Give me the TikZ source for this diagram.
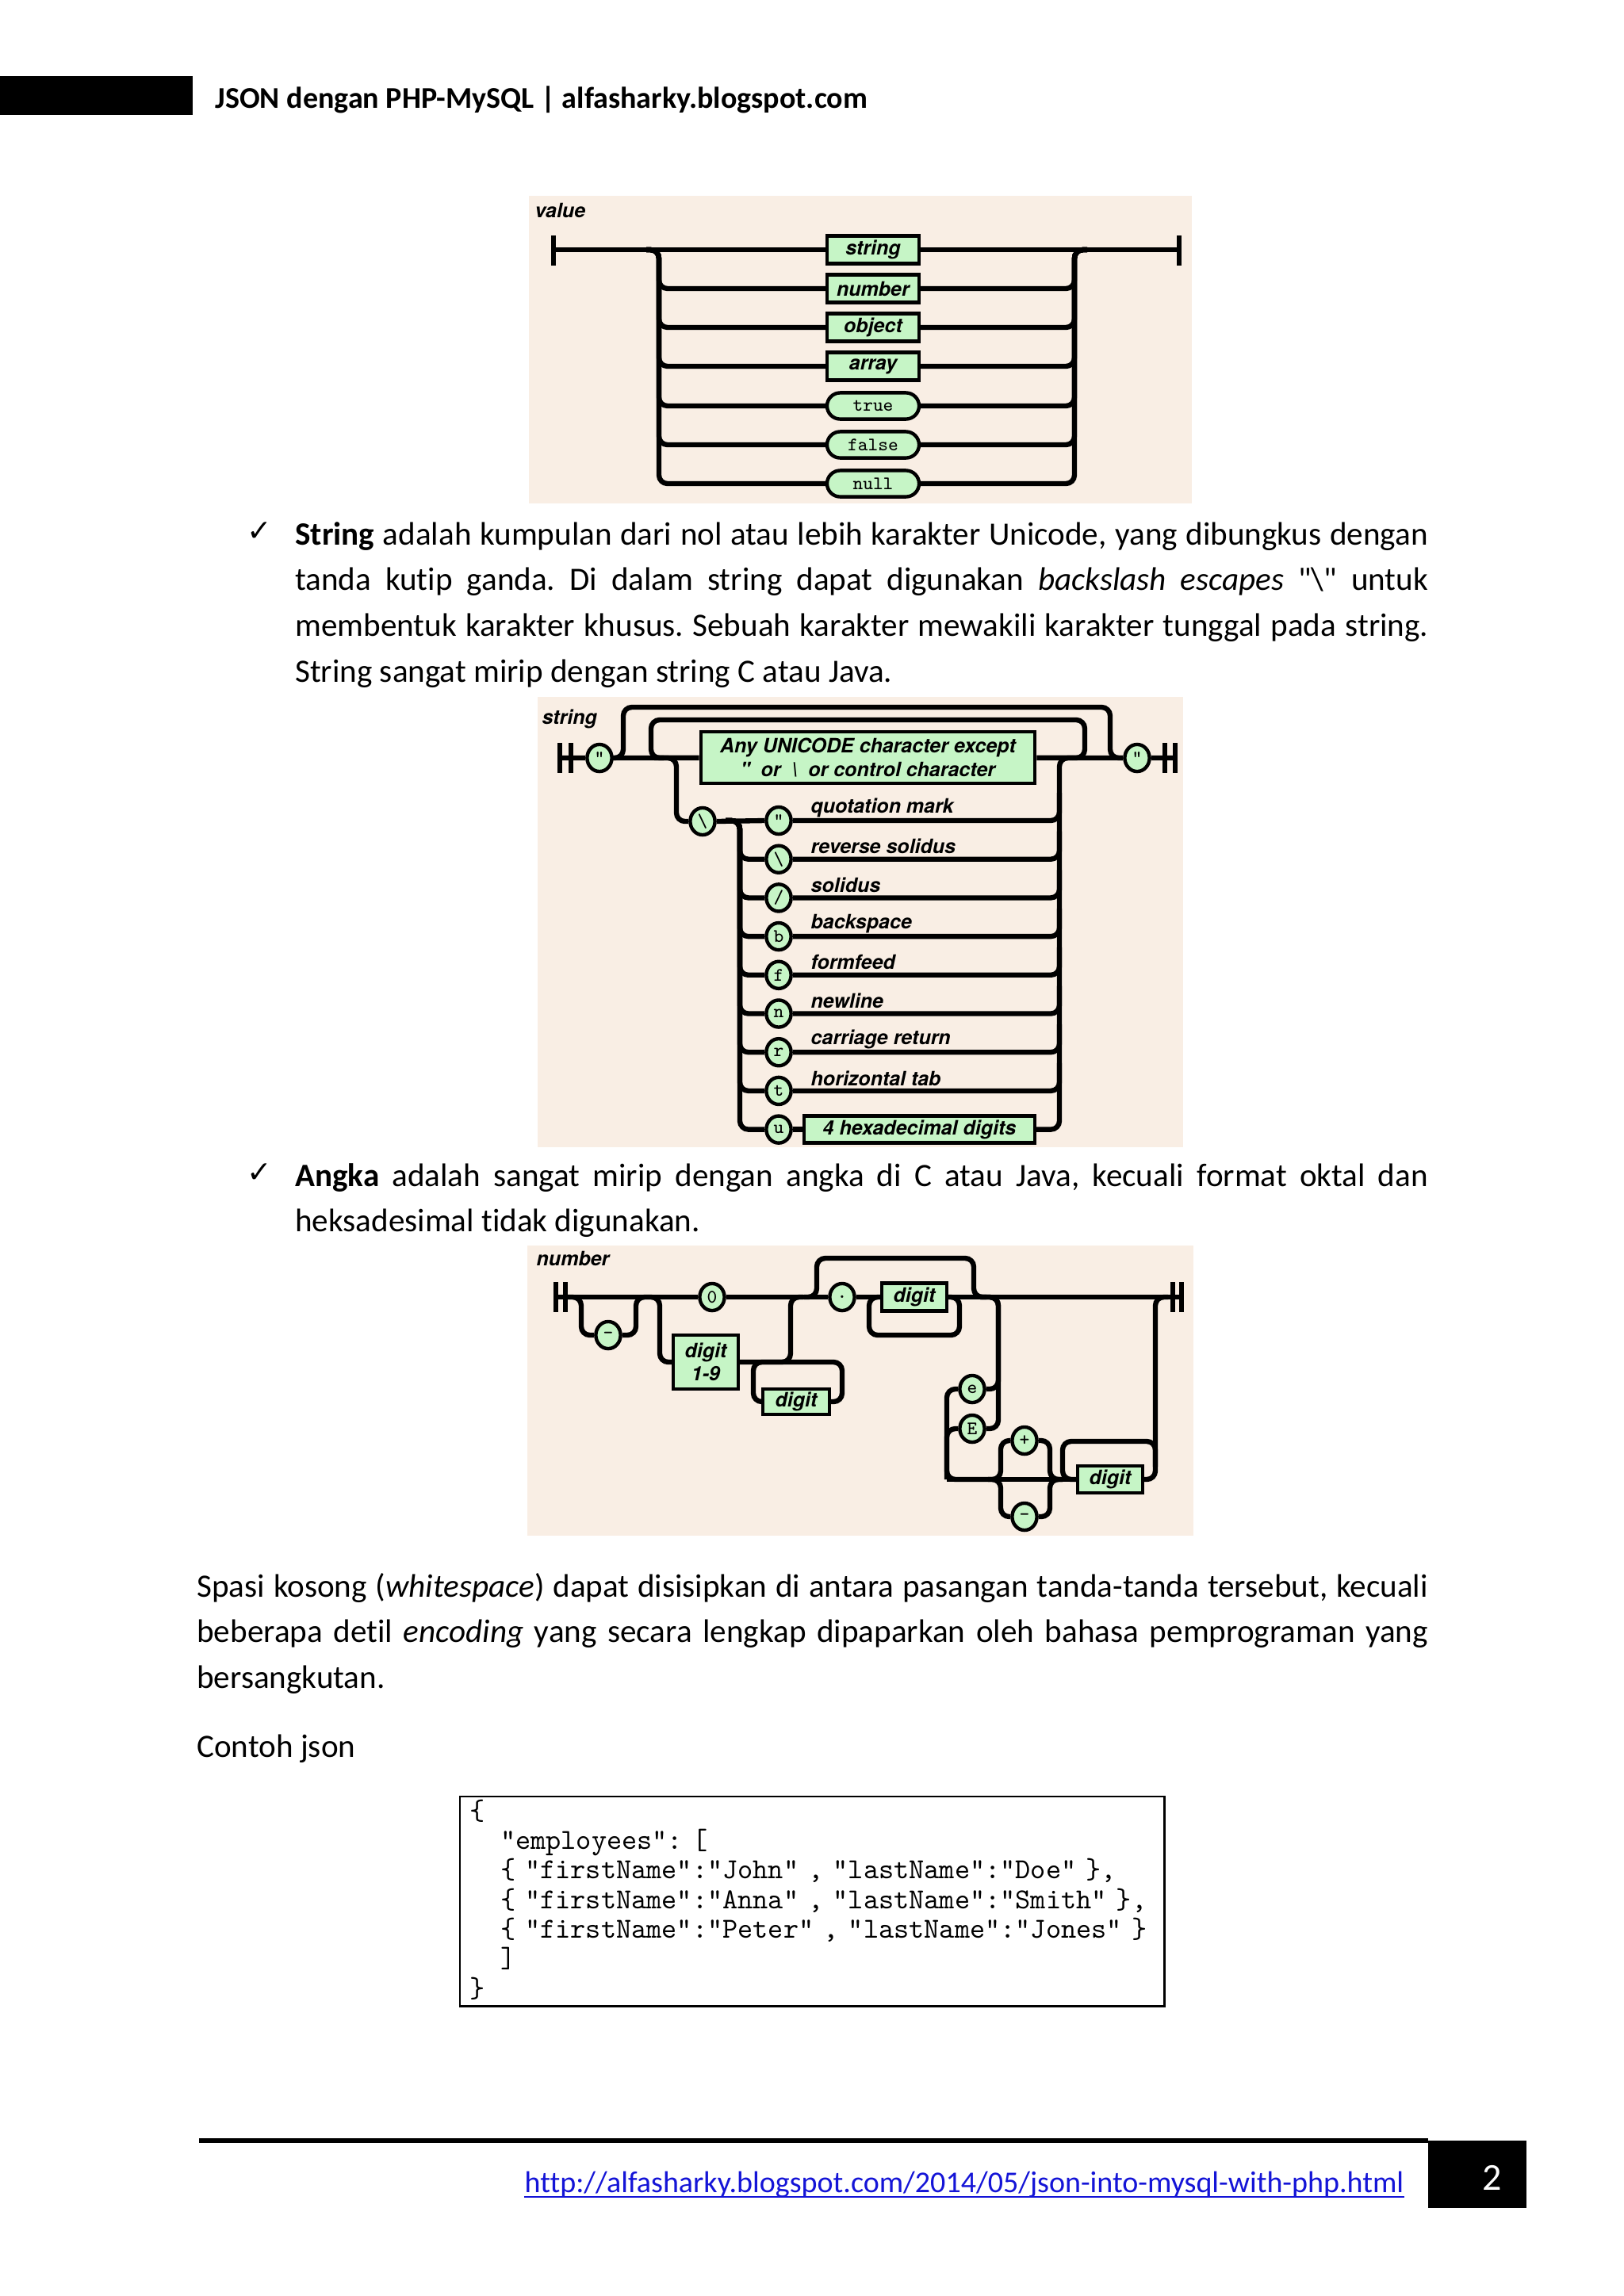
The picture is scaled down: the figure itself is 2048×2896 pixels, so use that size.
\documentclass[tikz,border=0pt]{standalone}
\usepackage{fontspec}
\setmainfont{Carlito}[Ligatures={TeXOff,CommonOff}]
\setmonofont{Latin Modern Mono}[Ligatures=TeXOff]
\newfontfamily\diafont{TeX Gyre Heros}[Ligatures=TeXOff]
\newfontfamily\symfont{DejaVu Sans}
\usetikzlibrary{shapes.geometric}
\definecolor{railbg}{RGB}{249,238,228}
\definecolor{railgreen}{RGB}{198,245,198}
\definecolor{linkblue}{RGB}{20,20,215}
\hyphenpenalty=10000
\exhyphenpenalty=10000
\tolerance=9999
\frenchspacing

\tikzset{
  rail/.style={line width=0.65mm, rounded corners=1.1mm},
  railbar/.style={line width=0.7mm},
  namelbl/.style={anchor=west, inner sep=0, font=\diafont\bfseries\itshape\fontsize{7.3}{8}\selectfont},
  ntbox/.style={draw, line width=0.45mm, fill=railgreen, inner sep=0, align=center,
    font=\diafont\bfseries\itshape\fontsize{7.3}{8.6}\selectfont},
  litpill/.style={draw, line width=0.45mm, fill=railgreen, inner sep=0, rounded corners=1.7mm,
    minimum width=11.9mm, minimum height=3.4mm, font=\ttfamily\fontsize{7}{7}\selectfont},
  litdot/.style={ellipse, draw, line width=0.45mm, fill=railgreen, inner sep=0,
    minimum width=3.2mm, minimum height=3.5mm, font=\ttfamily\fontsize{7}{7}\selectfont},
  bodytxt/.style={anchor=base west, inner sep=0, align=justify, font=\fontsize{12}{16.9}\selectfont},
  tick/.style={anchor=base west, inner sep=0, font=\symfont\fontsize{11}{12}\selectfont},
}

\begin{document}
\begin{tikzpicture}[x=0.1025390625mm, y=-0.1025390625mm]
  \fill[white] (0,0) rectangle (2048,2896);
  \useasboundingbox (0,0) rectangle (2048,2896);

  % header
  \fill[black] (0,96) rectangle (243,145);
  \node[anchor=base west, inner sep=0, font=\bfseries\fontsize{11.1}{13}\selectfont] (hdr) at (271,136)
    {JSON dengan PHP-MySQL | alfasharky.blogspot.com};

  % value
  \fill[railbg] (667,247) rectangle (1503,635);
  \node[namelbl] (vlbl) at (674,265) {value};
  \draw[railbar] (698,297) -- (698,335);
  \draw[railbar] (1487,297) -- (1487,335);
  \coordinate (vin) at (698,315);
  \coordinate (vout) at (1487,315);
  \coordinate (vsplit) at (815,315);
  \coordinate (vbl) at (831,315);
  \coordinate (vbr) at (1355,315);
  \coordinate (vjoin) at (1371,315);
  \foreach \nm/\yy in {string/315, number/364, object/413, array/462}
    \node[ntbox, minimum width=11.9mm, minimum height=3.6mm] (v\nm) at (1101,\yy) {\nm};
  \foreach \nm/\yy in {true/512, false/561, null/610}
    \node[litpill] (v\nm) at (1101,\yy) {\nm};
  \draw[rail] (vin) -- (vstring.west);
  \draw[rail] (vstring.east) -- (vout);
  \foreach \nm in {number,object,array,true,false,null} {
    \draw[rail] (vsplit) -| (v\nm.west -| vbl) -- (v\nm.west);
    \draw[rail] (v\nm.east) -| (vbr) -- (vjoin);
  }

  % bullet 1
  \node[tick] (chk1) at (311,682) {✓};
  \node[bodytxt, text width=146.5mm] (para1) at (371.6,687)
    {\textbf{String} adalah kumpulan dari nol atau lebih karakter Unicode, yang dibungkus dengan\linebreak
     tanda kutip ganda. Di dalam string dapat digunakan \textit{backslash escapes} "\textbackslash" untuk\linebreak
     membentuk karakter khusus. Sebuah karakter mewakili karakter tunggal pada string.\linebreak
     String sangat mirip dengan string C atau Java.};

  % string
  \fill[railbg] (678,879) rectangle (1492,1447);
  \node[namelbl] (slbl) at (683,907) {string};
  \draw[railbar] (706,937) -- (706,975);
  \draw[railbar] (720,937) -- (720,975);
  \draw[railbar] (1469,937) -- (1469,975);
  \draw[railbar] (1482,937) -- (1482,975);
  \coordinate (sin) at (706,956);
  \coordinate (sout) at (1482,956);
  \node[litdot] (sq1) at (756,956) {"};
  \node[ntbox, minimum width=43.2mm, minimum height=6.7mm] (sany) at (1094.5,955.5)
    {Any UNICODE character except\\" \ or \ \textbackslash\ \ or control character};
  \node[litdot] (sq2) at (1434,956) {"};
  \draw[rail] (sin) -- (sq1) -- (sany) -- (sq2) -- (sout);
  \draw[rail] (772,956) -| (786,892) -| (1400,956) -- (1416,956);
  \draw[rail] (1352,956) -| (1368,908) -| (821,956) -- (837,956);
  \node[litdot] (sbs) at (886,1036) {\textbackslash};
  \draw[rail] (825,956) -| (853,1036) -- (sbs.west);
  \foreach \ch/\lbl [count=\k from 0] in {"/quotation mark, \textbackslash/reverse solidus,
      {/}/solidus, b/backspace, f/formfeed, n/newline, r/carriage return, t/horizontal tab} {
    \node[litdot] (se\k) at (982,{1035+48.7*\k}) {\ch};
    \node[namelbl] (sl\k) at (1022,{1019+48.7*\k}) {\lbl};
    \draw[rail] (se\k.east) -| (1336,{1000+48.7*\k});
    \ifnum\k>0
      \draw[rail] (915,1035) -| (933,{1035+48.7*\k}) -- (se\k.west);
    \fi
  }
  \draw[rail] (sbs.east) -- (se0.west);
  \node[litdot] (se8) at (982,1424.6) {u};
  \node[ntbox, minimum width=29.8mm, minimum height=3.5mm] (shex) at (1159.5,1424.6) {4 hexadecimal digits};
  \draw[rail] (915,1035) -| (933,1424.6) -- (se8.west);
  \draw[rail] (se8) -- (shex);
  \draw[rail] (shex.east) -| (1336,956) -- (1352,956);

  % bullet 2
  \node[tick] (chk2) at (311,1491) {✓};
  \node[bodytxt, text width=146.5mm] (para2) at (371.6,1496)
    {\textbf{Angka} adalah sangat mirip dengan angka di C atau Java, kecuali format oktal dan\linebreak
     heksadesimal tidak digunakan.};

  % number
  \fill[railbg] (665,1571) rectangle (1505,1937);
  \node[namelbl] (nlbl) at (676,1587) {number};
  \foreach \xx in {701,713,1479,1490}
    \draw[railbar] (\xx,1617) -- (\xx,1655);
  \coordinate (nin) at (701,1636);
  \coordinate (nout) at (1490,1636);
  \node[litdot] (nminus) at (767,1684) {-};
  \node[litdot] (nzero) at (898,1636) {0};
  \node[ntbox, minimum width=8.4mm, minimum height=7mm] (nd19) at (890,1718) {digit\\1-9};
  \node[ntbox, minimum width=8.6mm, minimum height=3.3mm] (nd2) at (1004,1768) {digit};
  \node[litdot] (ndot) at (1062,1636) {.};
  \node[ntbox, minimum width=8.4mm, minimum height=3.6mm] (nfrac) at (1153,1636) {digit};
  \node[litdot] (ne) at (1226,1752) {e};
  \node[litdot] (nE) at (1226,1802) {E};
  \node[litdot] (nplus) at (1292,1817) {+};
  \node[litdot] (nminus2) at (1292,1913) {-};
  \node[ntbox, minimum width=8.4mm, minimum height=3.5mm] (nexp) at (1400,1866) {digit};
  \draw[rail] (nin) -- (nzero) -- (ndot) -- (nfrac) -- (nout);
  \draw[rail] (715,1636) -| (733,1684) -- (nminus.west);
  \draw[rail] (nminus.east) -| (802,1636) -- (818,1636);
  \draw[rail] (818,1636) -| (832,1718) -- (nd19.west);
  \draw[rail] (nd19.east) -| (997,1636) -- (1013,1636);
  \draw[rail] (nd2.west) -| (950,1718) -- (1062,1718) |- (nd2.east);
  \draw[rail] (1014,1636) -| (1030,1587) -| (1228,1636) -- (1244,1636);
  \draw[rail] (nfrac.east) -| (1210,1684) -| (1096,1636) -- (1112,1636);
  \draw[rail] (1236,1636) -| (1259,1752) -- (ne.east);
  \draw[rail] (1236,1636) -| (1259,1802) -- (nE.east);
  \draw[rail] (ne.west) -| (1194,1866) -- (1246,1866);
  \draw[rail] (nE.west) -| (1194,1866);
  \draw[rail] (1194,1866) -- (nexp.west);
  \draw[rail] (1246,1866) -| (1262,1817) -- (nplus.west);
  \draw[rail] (nplus.east) -| (1324,1866) -- (1340,1866);
  \draw[rail] (1246,1866) -| (1262,1913) -- (nminus2.west);
  \draw[rail] (nminus2.east) -| (1324,1866) -- (1340,1866);
  \draw[rail] (1457,1850) |- (1340,1818) |- (nexp.west);
  \draw[rail] (nexp.east) -| (1457,1636) -- (1473,1636);

  % paragraph
  \node[bodytxt, text width=159.2mm] (para3) at (247.7,2014)
    {Spasi kosong (\textit{whitespace}) dapat disisipkan di antara pasangan tanda-tanda tersebut, kecuali\linebreak
     beberapa detil \textit{encoding} yang secara lengkap dipaparkan oleh bahasa pemprograman yang\linebreak
     bersangkutan.};
  \node[anchor=base west, inner sep=0, font=\fontsize{12}{16.9}\selectfont] (contoh) at (247.7,2216) {Contoh json};

  % code
  \node[draw, line width=0.25mm, anchor=north west, minimum width=91.1mm, minimum height=27.1mm] (codebox) at (579,2265) {};
  \node[anchor=base west, inner sep=0, text width=88mm, align=left, font=\ttfamily\fontsize{10.65}{10.9}\selectfont] (codetxt) at (592,2295)
    {\{\\
     \hspace*{1.05em}"employees": [\\
     \hspace*{1.05em}\{ "firstName":"John" , "lastName":"Doe" \},\\
     \hspace*{1.05em}\{ "firstName":"Anna" , "lastName":"Smith" \},\\
     \hspace*{1.05em}\{ "firstName":"Peter" , "lastName":"Jones" \}\\
     \hspace*{1.05em}]\\
     \}};

  % footer
  \fill[black] (251,2697) rectangle (1801,2703);
  \fill[black] (1801,2700) rectangle (1925,2785);
  \node[anchor=base west, inner sep=0, text=linkblue, font=\fontsize{11.1}{13}\selectfont] (url) at (661,2765)
    {http://alfasharky.blogspot.com/2014/05/json-into-mysql-with-php.html};
  \draw[linkblue, line width=0.25mm] (url.base west |- 0,2771) -- (url.base east |- 0,2771);
  \node[anchor=base, inner sep=0, text=white, font=\fontsize{14}{16}\selectfont] (pgno) at (1882,2762) {2};
\end{tikzpicture}
\end{document}
